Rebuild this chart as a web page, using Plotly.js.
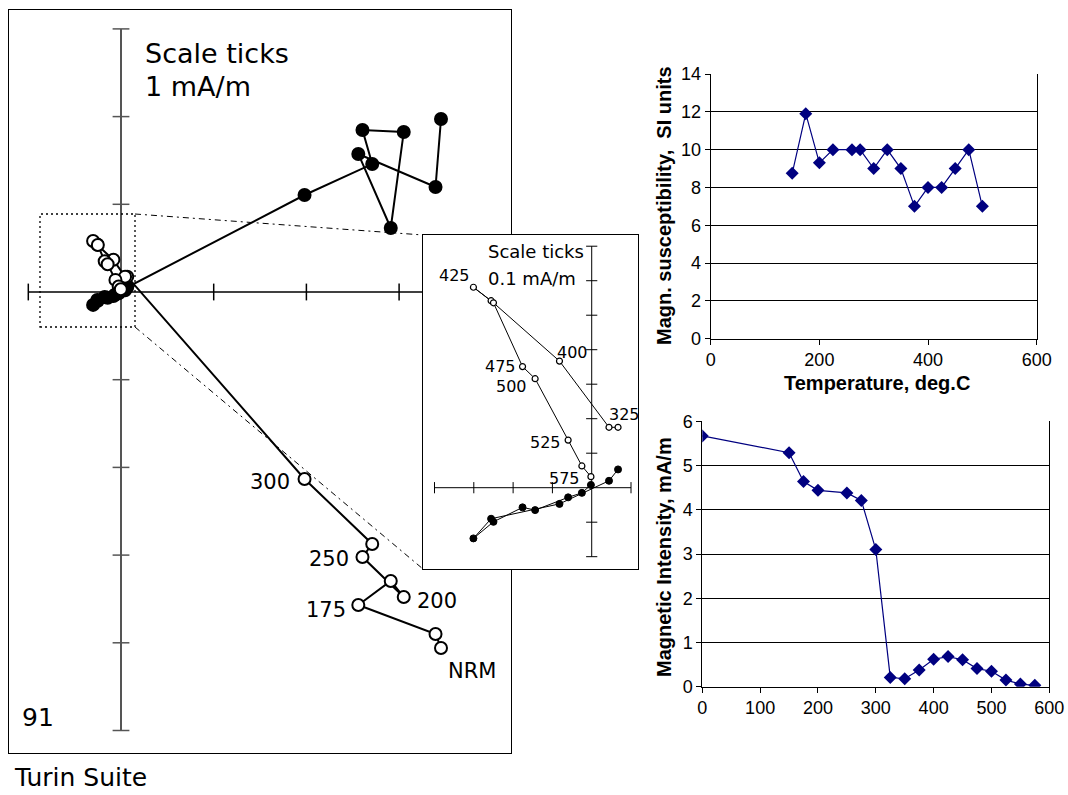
<!DOCTYPE html>
<html><head><meta charset="utf-8">
<script src="https://cdn.plot.ly/plotly-3.0.1.min.js"></script>
<style>html,body{margin:0;padding:0;background:#fff}#chart{width:1068px;height:795px}</style>
</head><body><div id="chart"></div>
<script>
// ---- Zijderveld data (mA/m) ----
const steps = ['NRM','150','175','200','225','250','275','300','325','350','375','400','425','450','475','500','525','550','575'];
const horizE = [3.452,3.393,2.56,2.91,3.05,2.605,2.71,1.98,0.067,0.044,-0.082,-0.256,-0.301,-0.250,-0.176,-0.144,-0.060,-0.025,-0.002];
const compFilled = [1.973,1.197,1.574,0.730,1.824,1.847,1.459,1.106,0.053,0.020,-0.047,-0.090,-0.147,-0.099,-0.057,-0.065,-0.028,-0.015,0.008];
const compOpen = [-4.059,-3.900,-3.569,-3.295,-3.478,-3.022,-2.873,-2.132,0.175,0.175,0.367,0.542,0.581,0.536,0.351,0.316,0.138,0.063,0.032];
const insetFrom = 8;

// ---- Susceptibility ----
const suscT = [150,175,200,225,260,275,300,325,350,375,400,425,450,475,500];
const suscVal = [8.75,11.9,9.3,10,10,10,9,10,9,7,8,8,9,10,7];

// ---- Intensity ----
const intT = [0,150,175,200,250,275,300,325,350,375,400,425,450,475,500,525,550,575];
const intVal = [5.67,5.29,4.64,4.44,4.38,4.21,3.1,0.21,0.18,0.38,0.62,0.68,0.61,0.41,0.35,0.15,0.06,0.03];

// ---- scale ticks ----
const mainAxisX = [-1, 3.26], mainAxisY = [3, -5];
const mainTicksX = [-1,1,2,3], mainTicksY = [3,2,1,-1,-2,-3,-4,-5];
const insetAxisX = [-0.4, 0.1], insetAxisY = [0.7, -0.2];
const insetTicksX = [-0.4,-0.3,-0.2,-0.1,0.1], insetTicksY = [0.7,0.6,0.5,0.4,0.3,0.2,0.1,-0.1,-0.2];

// ---- labels ----
const mainLabelText = ['NRM','175','200','250','300'];
const insetLabelText = ['425','400','475','500','325','525','575'];

const W = 1068, H = 795;
const px = v => v / W, py = v => 1 - v / H;
const FZ = 'DejaVu Sans, sans-serif';
const FA = 'Liberation Sans, Arial, sans-serif';

const traces = [];
// main axes
traces.push({x: mainAxisX, y: [0,0], xaxis:'x', yaxis:'y', mode:'lines', line:{color:'#000', width:1.5}});
traces.push({x: [0,0], y: mainAxisY, xaxis:'x', yaxis:'y', mode:'lines', line:{color:'#555', width:2}});
traces.push({x: mainTicksX, y: mainTicksX.map(()=>0), xaxis:'x', yaxis:'y', mode:'markers',
  marker:{symbol:'line-ns', size:12, line:{color:'#000', width:1.5}}});
traces.push({x: mainTicksY.map(()=>0), y: mainTicksY, xaxis:'x', yaxis:'y', mode:'markers',
  marker:{symbol:'line-ew', size:12, line:{color:'#555', width:1.5}}});
// main data
traces.push({x: horizE, y: compFilled, xaxis:'x', yaxis:'y', mode:'lines+markers', line:{color:'#000', width:2},
  marker:{symbol:'circle', size:12, color:'#000', line:{color:'#000', width:2}}});
traces.push({x: horizE, y: compOpen, xaxis:'x', yaxis:'y', mode:'lines+markers', line:{color:'#000', width:2},
  marker:{symbol:'circle', size:12, color:'#fff', line:{color:'#000', width:2}}});

// inset axes
traces.push({x: insetAxisX, y: [0,0], xaxis:'x2', yaxis:'y2', mode:'lines', line:{color:'#000', width:1}});
traces.push({x: [0,0], y: insetAxisY, xaxis:'x2', yaxis:'y2', mode:'lines', line:{color:'#000', width:1}});
traces.push({x: insetTicksX, y: insetTicksX.map(()=>0), xaxis:'x2', yaxis:'y2', mode:'markers',
  marker:{symbol:'line-ns', size:8, line:{color:'#000', width:1}}});
traces.push({x: insetTicksY.map(()=>0), y: insetTicksY, xaxis:'x2', yaxis:'y2', mode:'markers',
  marker:{symbol:'line-ew', size:8, line:{color:'#000', width:1}}});
const iE = horizE.slice(insetFrom);
traces.push({x: iE, y: compFilled.slice(insetFrom), xaxis:'x2', yaxis:'y2', mode:'lines+markers', line:{color:'#000', width:1},
  marker:{symbol:'circle', size:7, color:'#000', line:{color:'#000', width:1}}});
traces.push({x: iE, y: compOpen.slice(insetFrom), xaxis:'x2', yaxis:'y2', mode:'lines+markers', line:{color:'#000', width:1},
  marker:{symbol:'circle', size:6, color:'#fff', line:{color:'#000', width:1.2}}});

// susceptibility
traces.push({x: suscT, y: suscVal, xaxis:'x3', yaxis:'y3', mode:'lines+markers', line:{color:'#000080', width:1.2},
  marker:{symbol:'diamond', size:10, color:'#000080'}});
// intensity
traces.push({x: intT, y: intVal, xaxis:'x4', yaxis:'y4', mode:'lines+markers', line:{color:'#000080', width:1.2},
  marker:{symbol:'diamond', size:10, color:'#000080'}});

const boxAxis = (dom, rng) => ({domain: dom, range: rng, showgrid:false, zeroline:false, showticklabels:false,
  ticks:'', showline:true, mirror:true, linecolor:'#000', linewidth:1, fixedrange:true});

const annotations = [];
const mainAnchor = [0,2,4,5,7];
const mainShift = [[31,-23],[-32,-5],[33,-4],[-33,-2],[-35,-3]];
mainLabelText.forEach((t,i)=>{
  const k = mainAnchor[i];
  annotations.push({xref:'x', yref:'y', x: horizE[k], y: compOpen[k], text:t, showarrow:false,
    xshift: mainShift[i][0], yshift: mainShift[i][1], font:{family:FZ, size:21, color:'#000'}});
});
const insetAnchor = [12,10,14,15,8,16,18];
const insetShift = [[-19,12],[13,9],[-22,0],[-24,-8],[6,13],[-23,-2],[-26,-2]];
insetLabelText.forEach((t,i)=>{
  const k = insetAnchor[i];
  annotations.push({xref:'x2', yref:'y2', x: horizE[k], y: compOpen[k], text:t, showarrow:false,
    xshift: insetShift[i][0], yshift: insetShift[i][1], font:{family:FZ, size:16, color:'#000'}});
});
const paperText = (t, x, y, size, opts={}) => annotations.push(Object.assign({xref:'paper', yref:'paper',
  x: px(x), y: py(y), text:t, showarrow:false, xanchor:'left', yanchor:'middle', font:{family:FZ, size:size, color:'#000'}}, opts));
paperText('Scale ticks', 143, 54, 27);
paperText('1 mA/m', 143, 87, 27);
paperText('Scale ticks', 486, 252, 18);
paperText('0.1 mA/m', 486, 279, 18);
paperText('91', 20, 717, 25);
paperText('Turin Suite', 12, 777, 25);
paperText('<b>Temperature, deg.C</b>', 877, 383, 20, {xanchor:'center', font:{family:FA, size:20, color:'#000'}});
paperText('<b>Magn. susceptibility,  SI units</b>', 664, 206, 20, {xanchor:'center', textangle:-90, font:{family:FA, size:20, color:'#000'}});
paperText('<b>Magnetic Intensity, mA/m</b>', 664, 557, 20, {xanchor:'center', textangle:-90, font:{family:FA, size:20, color:'#000'}});

const dd = '6px,4px,2px,4px';
const shapes = [
  {type:'rect', xref:'paper', yref:'paper', x0:px(40), x1:px(135), y0:py(327), y1:py(214), line:{color:'#000', width:1.3, dash:'2px,3px'}},
  {type:'line', xref:'paper', yref:'paper', x0:px(135), y0:py(214), x1:px(423), y1:py(235), line:{color:'#000', width:1, dash:dd}},
  {type:'line', xref:'paper', yref:'paper', x0:px(135), y0:py(327), x1:px(423), y1:py(569), line:{color:'#000', width:1, dash:dd}}
];

const chartX = (dom, rng, dt) => ({domain: dom, range: rng, dtick: dt, tick0:0, showgrid:false, zeroline:false,
  showline:true, linecolor:'#000', linewidth:1, ticks:'outside', ticklen:5, tickcolor:'#000',
  tickfont:{family:FA, size:18, color:'#000'}, fixedrange:true});
const chartY = (dom, rng, dt) => ({domain: dom, range: rng, dtick: dt, tick0:0, showgrid:true, gridcolor:'#000', gridwidth:1,
  zeroline:false, showline:true, mirror:true, linecolor:'#000', linewidth:1, ticks:'outside', ticklen:5, tickcolor:'#000',
  tickfont:{family:FA, size:18, color:'#000'}, fixedrange:true});

const layout = {
  width: W, height: H, margin:{l:0, r:0, t:0, b:0}, showlegend:false,
  paper_bgcolor:'#fff', plot_bgcolor:'#fff',
  xaxis: boxAxis([px(9), px(511)], [-1.2082, 4.2071]),
  yaxis: boxAxis([py(753), py(10)], [-5.2566, 3.2155]),
  xaxis2: boxAxis([px(423), px(638)], [-0.4293, 0.1178]),
  yaxis2: boxAxis([py(569), py(235)], [-0.2357, 0.7325]),
  xaxis3: chartX([px(710.7), px(1036.7)], [0,600], 200),
  yaxis3: chartY([py(338.7), py(74)], [0,14], 2),
  xaxis4: chartX([px(702.3), px(1049.3)], [0,600], 100),
  yaxis4: chartY([py(686.7), py(421.3)], [0,6], 1),
  annotations, shapes
};
layout.yaxis.anchor='x'; layout.xaxis.anchor='y';
layout.xaxis2.anchor='y2'; layout.yaxis2.anchor='x2';
layout.xaxis3.anchor='y3'; layout.yaxis3.anchor='x3';
layout.xaxis4.anchor='y4'; layout.yaxis4.anchor='x4';

Plotly.newPlot('chart', traces, layout, {staticPlot:true, displayModeBar:false});
</script></body></html>
